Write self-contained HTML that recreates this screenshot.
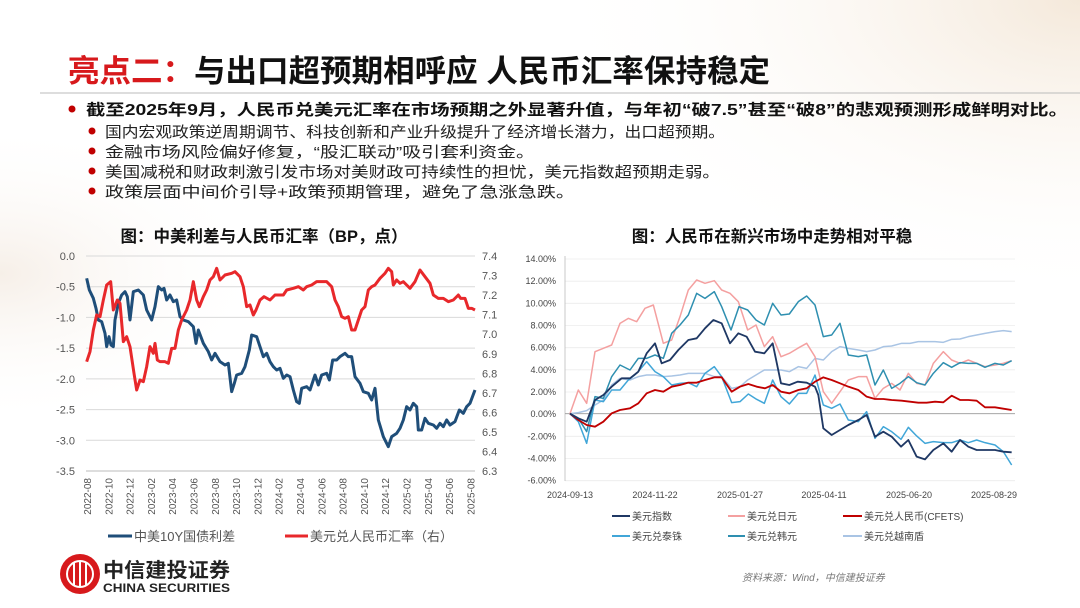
<!DOCTYPE html>
<html><head><meta charset="utf-8">
<style>
html,body{margin:0;padding:0;background:#fff;}
svg{display:block;}
text{font-family:"Liberation Sans","Noto Sans CJK SC",sans-serif;}
</style></head>
<body>
<svg width="1080" height="608" viewBox="0 0 1080 608" xmlns="http://www.w3.org/2000/svg">
<defs>
<radialGradient id="bg1" cx="1" cy="0" r="0.5">
<stop offset="0" stop-color="#f3e6d6" stop-opacity="0.9"/>
<stop offset="1" stop-color="#ffffff" stop-opacity="0"/>
</radialGradient>
<radialGradient id="bg2" cx="0" cy="0.45" r="0.25">
<stop offset="0" stop-color="#f4ebe2" stop-opacity="0.8"/>
<stop offset="1" stop-color="#ffffff" stop-opacity="0"/>
</radialGradient>
</defs>
<rect width="1080" height="608" fill="#fff"/>
<rect width="1080" height="608" fill="url(#bg1)"/>
<rect width="1080" height="608" fill="url(#bg2)"/>

<!-- Title -->
<text x="68" y="82" font-size="31" font-weight="bold" fill="#d7191c" textLength="702" lengthAdjust="spacingAndGlyphs">亮点二：<tspan fill="#111">与出口超预期相呼应 人民币汇率保持稳定</tspan></text>
<line x1="40" y1="93" x2="1080" y2="93" stroke="#bbb" stroke-width="1"/>

<circle cx="72" cy="109" r="3.5" fill="#c00000"/>
<text x="86" y="115" font-size="15.5" font-weight="bold" fill="#111" textLength="982" lengthAdjust="spacingAndGlyphs">截至2025年9月，人民币兑美元汇率在市场预期之外显著升值，与年初“破7.5”甚至“破8”的悲观预测形成鲜明对比。</text>
<g font-size="15" fill="#222">
<circle cx="92" cy="131" r="3.5" fill="#c00000"/>
<text x="105" y="137" textLength="620" lengthAdjust="spacingAndGlyphs">国内宏观政策逆周期调节、科技创新和产业升级提升了经济增长潜力，出口超预期。</text>
<circle cx="92" cy="151" r="3.5" fill="#c00000"/>
<text x="105" y="157" textLength="430" lengthAdjust="spacingAndGlyphs">金融市场风险偏好修复，“股汇联动”吸引套利资金。</text>
<circle cx="92" cy="171" r="3.5" fill="#c00000"/>
<text x="105" y="177" textLength="615" lengthAdjust="spacingAndGlyphs">美国减税和财政刺激引发市场对美财政可持续性的担忧，美元指数超预期走弱。</text>
<circle cx="92" cy="191" r="3.5" fill="#c00000"/>
<text x="105" y="197" textLength="470" lengthAdjust="spacingAndGlyphs">政策层面中间价引导+政策预期管理，避免了急涨急跌。</text>
</g>

<!-- Left chart -->
<text x="264" y="242" font-size="16.5" font-weight="bold" fill="#111" text-anchor="middle">图：中美利差与人民币汇率（BP，点）</text>
<g stroke="#d9d9d9" stroke-width="1">
<line x1="86" y1="256" x2="475" y2="256"/>
<line x1="86" y1="286.7" x2="475" y2="286.7"/>
<line x1="86" y1="317.4" x2="475" y2="317.4"/>
<line x1="86" y1="348.1" x2="475" y2="348.1"/>
<line x1="86" y1="378.9" x2="475" y2="378.9"/>
<line x1="86" y1="409.6" x2="475" y2="409.6"/>
<line x1="86" y1="440.3" x2="475" y2="440.3"/>
<line x1="86" y1="471" x2="475" y2="471" stroke="#bbb"/>
</g>
<g font-size="11" fill="#555" text-anchor="end">
<text x="75" y="260">0.0</text><text x="75" y="290.7">-0.5</text><text x="75" y="321.4">-1.0</text><text x="75" y="352.1">-1.5</text><text x="75" y="382.9">-2.0</text><text x="75" y="413.6">-2.5</text><text x="75" y="444.3">-3.0</text><text x="75" y="475">-3.5</text>
</g>
<g font-size="11" fill="#555">
<text x="482" y="260">7.4</text><text x="482" y="279.6">7.3</text><text x="482" y="299.1">7.2</text><text x="482" y="318.7">7.1</text><text x="482" y="338.2">7.0</text><text x="482" y="357.8">6.9</text><text x="482" y="377.3">6.8</text><text x="482" y="396.9">6.7</text><text x="482" y="416.4">6.6</text><text x="482" y="436">6.5</text><text x="482" y="455.5">6.4</text><text x="482" y="475">6.3</text>
</g>
<g font-size="10" fill="#555" text-anchor="end">
<text transform="translate(91 478) rotate(-90)">2022-08</text>
<text transform="translate(112.3 478) rotate(-90)">2022-10</text>
<text transform="translate(133.6 478) rotate(-90)">2022-12</text>
<text transform="translate(154.9 478) rotate(-90)">2023-02</text>
<text transform="translate(176.2 478) rotate(-90)">2023-04</text>
<text transform="translate(197.5 478) rotate(-90)">2023-06</text>
<text transform="translate(218.8 478) rotate(-90)">2023-08</text>
<text transform="translate(240.1 478) rotate(-90)">2023-10</text>
<text transform="translate(261.4 478) rotate(-90)">2023-12</text>
<text transform="translate(282.7 478) rotate(-90)">2024-02</text>
<text transform="translate(304 478) rotate(-90)">2024-04</text>
<text transform="translate(325.3 478) rotate(-90)">2024-06</text>
<text transform="translate(346.6 478) rotate(-90)">2024-08</text>
<text transform="translate(367.9 478) rotate(-90)">2024-10</text>
<text transform="translate(389.2 478) rotate(-90)">2024-12</text>
<text transform="translate(410.5 478) rotate(-90)">2025-02</text>
<text transform="translate(431.8 478) rotate(-90)">2025-04</text>
<text transform="translate(453.1 478) rotate(-90)">2025-06</text>
<text transform="translate(474.4 478) rotate(-90)">2025-08</text>
</g>
<g transform="translate(40 220) scale(0.33333)" fill="none" stroke-linejoin="round" stroke-width="9">
<polyline stroke="#1f4e79" points="140,175 148,210 160,235 168,265 175,300 185,305 195,340 200,380 207,350 213,375 220,380 225,300 235,250 245,225 255,215 262,230 270,300 280,215 295,210 310,225 320,270 335,300 345,260 355,200 365,210 372,205 380,240 390,225 400,245 410,240 420,290 430,300 445,305 460,320 468,370 475,330 490,370 505,395 515,420 525,400 540,425 555,435 565,430 575,515 583,490 590,465 605,460 615,440 628,390 635,345 650,350 660,380 670,410 680,400 690,425 700,440 710,450 720,445 730,475 740,465 750,470 760,510 770,545 778,550 785,505 800,500 810,510 825,465 835,495 845,465 860,460 868,480 878,420 890,420 900,410 915,400 925,410 935,410 945,470 960,490 970,515 985,520 995,540 1005,505 1015,600 1030,650 1045,680 1055,650 1070,640 1080,625 1090,600 1100,560 1110,570 1120,550 1130,560 1135,630 1145,630 1155,595 1165,610 1180,615 1190,625 1200,610 1210,620 1220,600 1230,615 1245,605 1258,570 1270,580 1280,560 1290,550 1305,510"/>
<polyline stroke="#e8282b" points="140,425 150,395 160,330 170,285 180,290 190,240 200,195 212,185 220,270 232,240 240,250 250,365 260,350 270,380 282,460 290,510 300,480 310,485 320,440 330,380 340,400 345,370 352,420 360,425 375,425 385,430 395,385 405,385 415,330 425,300 440,270 450,240 460,185 470,240 478,260 490,230 500,210 510,180 520,170 530,145 540,180 555,165 575,160 585,155 600,170 610,200 620,260 630,255 640,285 648,270 660,240 672,230 690,240 705,225 730,225 740,210 760,205 775,200 790,210 800,200 815,195 830,185 860,185 875,200 885,240 895,260 905,290 915,295 925,290 935,330 945,330 955,300 965,270 975,260 985,210 995,200 1005,195 1020,175 1035,160 1045,145 1055,155 1060,195 1070,180 1080,190 1090,185 1100,195 1110,205 1125,185 1140,150 1155,170 1170,190 1180,225 1195,235 1210,235 1225,245 1240,240 1255,225 1262,235 1275,235 1285,265 1295,265 1305,270"/>
</g>
<line x1="108" y1="536" x2="132" y2="536" stroke="#1f4e79" stroke-width="3"/>
<text x="134" y="541" font-size="13" fill="#555">中美10Y国债利差</text>
<line x1="285" y1="536" x2="308" y2="536" stroke="#e8282b" stroke-width="3"/>
<text x="310" y="541" font-size="13" fill="#555">美元兑人民币汇率（右）</text>

<!-- Right chart -->
<text x="772" y="242" font-size="16.5" font-weight="bold" fill="#111" text-anchor="middle">图：人民币在新兴市场中走势相对平稳</text>
<g stroke="#ececec" stroke-width="0.8">
<line x1="565" y1="259" x2="1015" y2="259"/><line x1="565" y1="281.2" x2="1015" y2="281.2"/><line x1="565" y1="303.3" x2="1015" y2="303.3"/><line x1="565" y1="325.5" x2="1015" y2="325.5"/><line x1="565" y1="347.7" x2="1015" y2="347.7"/><line x1="565" y1="369.8" x2="1015" y2="369.8"/><line x1="565" y1="392" x2="1015" y2="392"/><line x1="565" y1="436.3" x2="1015" y2="436.3"/><line x1="565" y1="458.5" x2="1015" y2="458.5"/><line x1="565" y1="480.7" x2="1015" y2="480.7"/>
</g>
<line x1="565" y1="256" x2="565" y2="481" stroke="#bbb" stroke-width="0.8"/>
<line x1="565" y1="413.7" x2="1015" y2="413.7" stroke="#999" stroke-width="0.8"/>
<g font-size="9" fill="#444" text-anchor="end">
<text x="556" y="262">14.00%</text><text x="556" y="284.2">12.00%</text><text x="556" y="306.3">10.00%</text><text x="556" y="328.5">8.00%</text><text x="556" y="350.7">6.00%</text><text x="556" y="372.8">4.00%</text><text x="556" y="395">2.00%</text><text x="556" y="417">0.00%</text><text x="556" y="439.3">-2.00%</text><text x="556" y="461.5">-4.00%</text><text x="556" y="483.7">-6.00%</text>
</g>
<g font-size="9" fill="#444" text-anchor="middle">
<text x="570" y="498">2024-09-13</text><text x="655" y="498">2024-11-22</text><text x="740" y="498">2025-01-27</text><text x="824" y="498">2025-04-11</text><text x="909" y="498">2025-06-20</text><text x="994" y="498">2025-08-29</text>
</g>
<g transform="translate(515 240) scale(0.33333)" fill="none" stroke-linejoin="round" stroke-width="4.5">
<polyline stroke="#a9c4e4" points="165,521 190,518 215,512 240,495 265,480 290,435 315,415 345,420 370,410 395,405 420,405 445,410 470,408 495,405 520,400 545,400 570,400 598,410 620,410 650,445 675,440 698,420 723,405 748,390 773,390 798,390 823,395 850,380 875,385 900,355 925,360 950,335 975,320 1000,325 1030,330 1055,335 1080,330 1105,320 1130,318 1160,310 1185,310 1210,305 1235,305 1260,305 1285,307 1310,298 1335,297 1360,290 1385,285 1410,280 1440,275 1465,272 1490,275"/>
<polyline stroke="#f4a0a0" points="165,521 190,450 215,490 240,335 265,325 290,315 315,250 340,235 365,245 390,205 415,195 445,310 470,300 495,230 520,150 545,120 570,130 598,122 620,150 645,160 670,185 698,270 723,255 748,320 773,290 798,350 823,340 848,325 875,310 900,350 925,455 950,490 975,455 1000,420 1030,410 1055,410 1080,475 1105,445 1130,430 1155,450 1180,400 1205,430 1230,435 1255,370 1285,335 1310,360 1335,370 1360,360 1385,370 1410,380 1440,375 1465,370 1490,362"/>
<polyline stroke="#41a6d8" points="165,521 190,545 215,610 240,480 265,485 290,450 315,450 340,420 365,400 395,365 420,395 445,410 470,435 495,430 520,428 545,440 570,400 598,380 620,410 650,488 675,485 700,462 725,478 748,490 773,420 798,470 823,492 850,460 875,460 900,405 925,495 950,505 975,492 1000,540 1030,545 1055,515 1080,595 1105,560 1130,575 1158,598 1180,562 1205,588 1230,610 1255,605 1285,608 1310,608 1335,600 1360,608 1385,600 1410,608 1440,615 1465,635 1490,675"/>
<polyline stroke="#2e8fb0" points="165,521 190,535 215,575 240,470 265,475 290,410 315,375 345,390 370,355 395,355 420,345 445,355 470,280 495,255 520,225 545,160 570,175 598,155 620,200 648,270 672,200 698,210 723,240 748,255 773,190 798,225 823,222 850,185 875,168 900,195 925,290 950,285 975,250 1000,345 1030,350 1055,345 1080,435 1105,390 1130,445 1155,430 1180,410 1205,428 1230,435 1255,400 1285,368 1310,382 1335,368 1360,370 1385,370 1410,382 1440,370 1465,375 1490,362"/>
<polyline stroke="#c00000" stroke-width="5.5" points="165,521 190,540 215,555 240,560 265,545 290,520 315,510 345,505 370,490 395,460 420,450 445,455 470,440 495,435 520,428 545,428 570,420 598,412 620,412 650,455 675,440 700,432 725,440 750,445 773,435 798,455 823,460 850,450 875,445 900,425 925,412 950,420 975,430 1000,440 1030,450 1055,470 1080,477 1105,477 1130,480 1160,482 1185,485 1210,488 1235,488 1260,485 1285,487 1310,467 1335,480 1360,480 1385,482 1410,502 1440,502 1465,506 1490,510"/>
<polyline stroke="#1f3864" stroke-width="5.5" points="165,521 190,535 215,545 240,480 265,465 290,440 320,415 345,415 370,395 395,340 420,310 440,370 465,360 490,330 520,300 545,295 570,265 595,240 620,250 645,310 670,280 695,290 720,335 748,340 773,310 798,430 823,435 848,425 875,428 900,440 910,465 925,565 950,585 975,570 1000,555 1030,540 1055,525 1080,590 1105,575 1130,590 1158,620 1180,600 1205,650 1230,658 1255,630 1285,610 1310,635 1335,600 1360,620 1385,630 1410,630 1440,630 1465,635 1490,637"/>
</g>
<g font-size="10" fill="#444">
<line x1="612" y1="516" x2="630" y2="516" stroke="#1f3864" stroke-width="2"/><text x="632" y="520">美元指数</text>
<line x1="728" y1="516" x2="745" y2="516" stroke="#f4a0a0" stroke-width="2"/><text x="747" y="520">美元兑日元</text>
<line x1="843" y1="516" x2="862" y2="516" stroke="#c00000" stroke-width="2"/><text x="864" y="520">美元兑人民币(CFETS)</text>
<line x1="612" y1="536" x2="630" y2="536" stroke="#41a6d8" stroke-width="2"/><text x="632" y="540">美元兑泰铢</text>
<line x1="728" y1="536" x2="745" y2="536" stroke="#2e8fb0" stroke-width="2"/><text x="747" y="540">美元兑韩元</text>
<line x1="843" y1="536" x2="862" y2="536" stroke="#a9c4e4" stroke-width="2"/><text x="864" y="540">美元兑越南盾</text>
</g>

<text x="742" y="581" font-size="10" font-style="italic" fill="#777">资料来源：Wind，中信建投证券</text>

<!-- Logo -->
<circle cx="80" cy="574" r="20" fill="#d7191c"/>
<g stroke="#fff" stroke-width="2" fill="none">
<circle cx="80" cy="574" r="13"/>
<line x1="74" y1="562" x2="74" y2="586"/><line x1="80" y1="561" x2="80" y2="587"/><line x1="86" y1="562" x2="86" y2="586"/>
</g>
<text x="103" y="577" font-size="20" font-weight="bold" fill="#222" font-family="'Noto Serif CJK SC',serif" textLength="127" lengthAdjust="spacingAndGlyphs">中信建投证券</text>
<text x="103" y="592" font-size="12" font-weight="bold" fill="#222" textLength="127" lengthAdjust="spacingAndGlyphs">CHINA SECURITIES</text>
</svg>
</body></html>
